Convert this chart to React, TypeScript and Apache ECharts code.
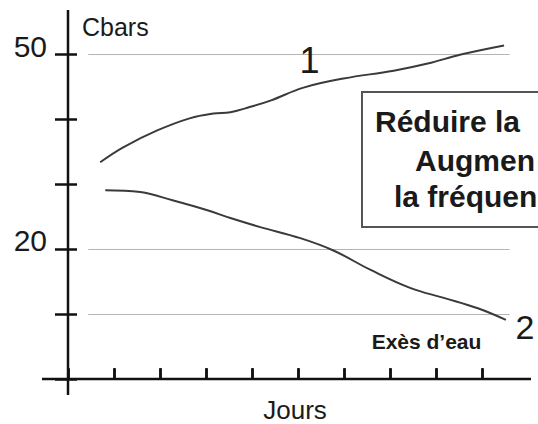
import React, { useEffect, useRef } from "react";
import * as echarts from "echarts";

// ---- data ----
const curve1X = [0.7, 1.2, 1.94, 2.66, 3.16, 3.53, 3.9, 4.4, 5.12, 5.99, 7.08, 7.82, 8.54, 9.48];
const curve1Y = [33.4, 35.7, 38.3, 40.2, 40.9, 41.1, 41.8, 42.9, 44.9, 46.3, 47.5, 48.6, 50.0, 51.4];
const curve2X = [0.81, 1.57, 2.29, 3.03, 3.53, 4.18, 5.05, 5.77, 6.58, 7.45, 8.17, 8.91, 9.52];
const curve2Y = [29.1, 28.8, 27.5, 26.0, 24.8, 23.4, 21.7, 19.8, 16.8, 14.0, 12.5, 10.9, 9.1];
const xTickValues = [0, 1, 2, 3, 4, 5, 6, 7, 8, 9];
const yLabelValues = [20, 50];
const referenceLines = [50, 20, 10];
const boxLines = ["Réduire la", "Augmen", "la fréquen"];
const curveNames = ["1", "2"];
const yName = "Cbars";
const xName = "Jours";
const excessLabel = "Exès d’eau";

// ---- layout constants ----
const W = 538;
const H = 424;
const GRID_LEFT = 68;
const GRID_TOP = 54.5;
const GRID_BOTTOM = 45;
const GRID_RIGHT = 10;
const X_MAX = 10;
const REF_X0 = 0.44;
const REF_X1 = 9.6;
const FONT = "'Liberation Sans', Arial, Helvetica, sans-serif";
const AXIS_COLOR = "#111";
const TEXT_COLOR = "#1a1a1a";

export default function App() {
  const ref = useRef<HTMLDivElement>(null);

  useEffect(() => {
    if (!ref.current) return;
    const chart = echarts.init(ref.current, undefined, { renderer: "svg", width: W, height: H });
    const originY = H - GRID_BOTTOM;

    const tickStyle = { color: AXIS_COLOR, width: 2.5 };
    const xBase = {
      type: "value" as const,
      min: 0,
      max: X_MAX,
      interval: 1,
      axisLine: { show: false },
      axisLabel: { show: false },
      splitLine: { show: false },
    };
    const yBase = {
      type: "value" as const,
      min: 0,
      max: 50,
      interval: 10,
      position: "left" as const,
      axisLine: { show: false },
      splitLine: { show: false },
    };

    chart.setOption({
      animation: false,
      backgroundColor: "#fff",
      grid: { left: GRID_LEFT, top: GRID_TOP, bottom: GRID_BOTTOM, right: GRID_RIGHT, containLabel: false },
      xAxis: [
        {
          ...xBase,
          axisTick: { show: true, inside: true, length: 10, lineStyle: tickStyle, customValues: xTickValues },
        },
        {
          ...xBase,
          axisTick: { show: true, inside: false, length: 11, lineStyle: tickStyle, customValues: xTickValues },
        },
      ],
      yAxis: [
        {
          ...yBase,
          axisTick: { show: true, inside: false, length: 13, lineStyle: tickStyle },
          axisLabel: {
            show: true,
            margin: 21,
            fontSize: 30,
            lineHeight: 17,
            verticalAlign: "bottom",
            fontFamily: FONT,
            color: TEXT_COLOR,
            formatter: (v: number) => (yLabelValues.includes(v) ? String(v) : ""),
          },
        },
        {
          ...yBase,
          axisTick: { show: true, inside: true, length: 9, lineStyle: tickStyle },
          axisLabel: { show: false },
        },
      ],
      series: [
        {
          type: "line",
          data: curve1X.map((x, i) => [x, curve1Y[i]]),
          smooth: 0.4,
          showSymbol: false,
          clip: false,
          lineStyle: { color: "#3a3a3a", width: 2 },
          z: 3,
          markLine: {
            silent: true,
            symbol: "none",
            label: { show: false },
            lineStyle: { color: "#b4b4b4", width: 1, type: "solid" },
            data: referenceLines.map((v) => [{ coord: [REF_X0, v] }, { coord: [REF_X1, v] }]),
            z: 1,
          },
        },
        {
          type: "line",
          data: curve2X.map((x, i) => [x, curve2Y[i]]),
          smooth: 0.4,
          showSymbol: false,
          clip: false,
          lineStyle: { color: "#3a3a3a", width: 2 },
          z: 3,
        },
      ],
    });

    const px = (x: number, y: number) =>
      chart.convertToPixel({ xAxisIndex: 0, yAxisIndex: 0 }, [x, y]) as number[];
    const o = px(0, 0);

    const txt = (text: string, x: number, y: number, size: number, align: string, bold = false) => ({
      type: "text",
      x,
      y,
      z: 20,
      style: {
        text,
        fontSize: size,
        fontFamily: FONT,
        fontWeight: bold ? "bold" : "normal",
        fill: TEXT_COLOR,
        align,
        verticalAlign: "middle",
      },
    });

    chart.setOption({
      graphic: [
        // axis lines
        {
          type: "line",
          z: 10,
          shape: { x1: o[0], y1: 10, x2: o[0], y2: originY + 16 },
          style: { stroke: AXIS_COLOR, lineWidth: 2.5 },
        },
        {
          type: "line",
          z: 10,
          shape: { x1: o[0] - 26, y1: o[1], x2: W - 7, y2: o[1] },
          style: { stroke: AXIS_COLOR, lineWidth: 2.5 },
        },
        // axis names
        txt(yName, 82, 26.5, 25, "left"),
        txt(xName, 295, 409.5, 26, "center"),
        // curve labels
        txt(curveNames[0], 309.5, 60, 36, "center"),
        txt(curveNames[1], 525, 327, 34, "center"),
        txt(excessLabel, 426.5, 341, 21, "center", true),
        // advice box
        {
          type: "rect",
          z: 15,
          shape: { x: 362, y: 92, width: 220, height: 135 },
          style: { fill: "#fff", stroke: "#555", lineWidth: 2 },
        },
        txt(boxLines[0], 375, 121.5, 30, "left", true),
        txt(boxLines[1], 415, 160, 30, "left", true),
        txt(boxLines[2], 394, 196.5, 30, "left", true),
      ],
    });

    return () => chart.dispose();
  }, []);

  return (
    <div
      style={{ position: "fixed", left: 0, top: 0, width: W, height: H, overflow: "hidden", background: "#fff" }}
    >
      <div ref={ref} style={{ width: W, height: H }} />
    </div>
  );
}
